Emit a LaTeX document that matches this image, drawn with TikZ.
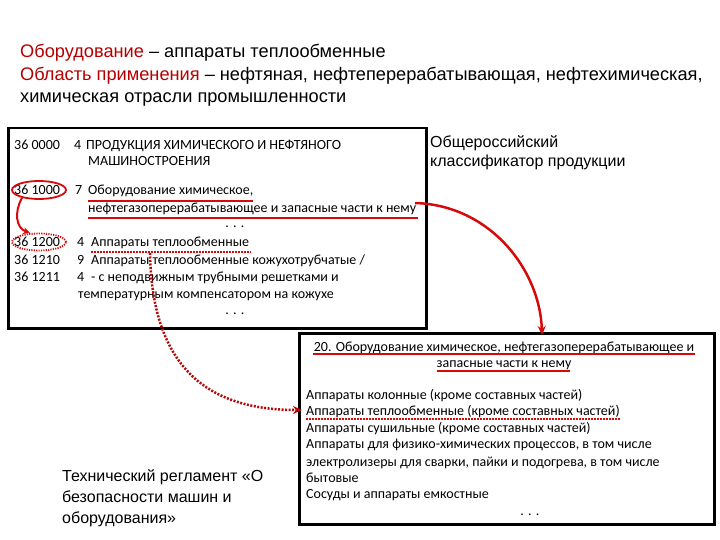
\documentclass[tikz,border=0pt]{standalone}
\usepackage{fontspec}
\setmainfont{Liberation Sans}
\newfontfamily\calfont{Carlito}
\usetikzlibrary{arrows.meta,shapes.geometric}
\definecolor{ttlred}{RGB}{180,0,0}
\definecolor{lnred}{RGB}{214,10,10}
\tikzset{
  ttl/.style={anchor=base west,inner sep=0pt,font=\fontsize{18.2}{20}\selectfont},
  lbl/.style={anchor=base west,inner sep=0pt,font=\fontsize{16}{18}\selectfont},
  bt/.style={anchor=base west,inner sep=0pt,font=\calfont\fontsize{14}{15}\selectfont},
  btc/.style={anchor=base,inner sep=0pt,font=\calfont\fontsize{14}{15}\selectfont},
  boxframe/.style={draw=black,line width=2.5pt},
  uline/.style={draw=lnred,line width=2pt},
  dline/.style={draw=lnred,line width=2pt,dash pattern=on 1.5pt off 1.5pt},
  redarrow/.style={draw=lnred,line width=2.5pt,-{Stealth[length=9pt,width=8pt]}},
  dotarrow/.style={draw=lnred!85!black,line width=2.5pt,dash pattern=on 2pt off 1.5pt,-{Stealth[length=9pt,width=8pt]}},
  ring/.style={draw=lnred,line width=1.8pt,ellipse,minimum width=54pt,minimum height=18pt,inner sep=0pt},
}
\begin{document}
\begin{tikzpicture}[x=1pt,y=-1pt]
\useasboundingbox (0,0) rectangle (720,540);
% titles
\node[ttl] (t1) at (20,58) {\textcolor{ttlred}{Оборудование} – аппараты теплообменные};
\node[ttl] (t2) at (20,81) {\textcolor{ttlred}{Область применения} – нефтяная, нефтеперерабатывающая, нефтехимическая,};
\node[ttl] (t3) at (20,103) {химическая отрасли промышленности};
% upper box
\node[boxframe,draw,minimum width=418pt,minimum height=200pt,anchor=north west,inner sep=0pt] (ubox) at (7,127) {};
\node[bt] (u1a) at (14,150) {36 0000};
\node[bt] (u1b) at (74,150) {4};
\node[bt] (u1c) at (86,150) {ПРОДУКЦИЯ ХИМИЧЕСКОГО И НЕФТЯНОГО};
\node[bt] (u1d) at (88,166) {МАШИНОСТРОЕНИЯ};
\node[bt] (u2a) at (14,195) {36 1000};
\node[bt] (u2b) at (75,195) {7};
\node[bt] (u2c) at (88,195) {Оборудование химическое,};
\node[bt] (u2d) at (88,212) {нефтегазоперерабатывающее и запасные части к нему};
\node[btc] (u2e) at (235,227) {. . .};
\node[bt] (u3a) at (14,247) {36 1200};
\node[bt] (u3b) at (77,247) {4};
\node[bt] (u3c) at (91,247) {Аппараты теплообменные};
\node[bt] (u4a) at (14,264) {36 1210};
\node[bt] (u4b) at (77,264) {9};
\node[bt] (u4c) at (91,264) {Аппараты теплообменные кожухотрубчатые /};
\node[bt] (u5a) at (14,281) {36 1211};
\node[bt] (u5b) at (77,281) {4};
\node[bt] (u5c) at (91,281) {- с неподвижным трубными решетками и};
\node[bt] (u5d) at (78,298) {температурным компенсатором на кожухе};
\node[btc] (u6) at (235,314) {. . .};
% underlines upper
\coordinate (ul1a) at (88,201); \coordinate (ul1b) at (253,201);
\coordinate (ul2a) at (88,218); \coordinate (ul2b) at (418,218);
\coordinate (ul3a) at (91,252); \coordinate (ul3b) at (251,252);
\draw[uline] (ul1a) -- (ul1b);
\draw[uline] (ul2a) -- (ul2b);
\draw[dline] (ul3a) -- (ul3b);
% rings
\node[ring] (r1) at (39,190) {};
\node[ring,dash pattern=on 1.2pt off 1.2pt,minimum height=17pt] (r2) at (39,242) {};
% label right
\node[lbl] (okp1) at (430,148) {Общероссийский};
\node[lbl] (okp2) at (430,167) {классификатор продукции};
% lower box
\node[boxframe,draw,minimum width=415pt,minimum height=191pt,anchor=north west,inner sep=0pt] (lbox) at (298,332) {};
\node[btc] (l0a) at (504,351) {20. Оборудование химическое, нефтегазоперерабатывающее и};
\node[btc] (l0b) at (504,367) {запасные части к нему};
\coordinate (ll1a) at (313,354); \coordinate (ll1b) at (695,354);
\coordinate (ll2a) at (437,371); \coordinate (ll2b) at (570,371);
\draw[uline] (ll1a) -- (ll1b);
\draw[uline] (ll2a) -- (ll2b);
\node[bt] (l1) at (306,399) {Аппараты колонные (кроме составных частей)};
\node[bt] (l2) at (306,415) {Аппараты теплообменные (кроме составных частей)};
\node[bt] (l3) at (306,432) {Аппараты сушильные (кроме составных частей)};
\node[bt] (l4) at (306,448) {Аппараты для физико-химических процессов, в том числе};
\node[bt] (l5) at (306,466) {электролизеры для сварки, пайки и подогрева, в том числе};
\node[bt] (l6) at (306,482) {бытовые};
\node[bt] (l7) at (306,498) {Сосуды и аппараты емкостные};
\node[btc] (l8) at (530,515) {. . .};
\coordinate (ll3a) at (306,419); \coordinate (ll3b) at (620,419);
\draw[dline] (ll3a) -- (ll3b);
% bottom-left label
\node[lbl] (tr1) at (62,481) {Технический регламент «О};
\node[lbl] (tr2) at (62,502) {безопасности машин и};
\node[lbl] (tr3) at (62,523) {оборудования»};
% arrows
\coordinate (a1s) at (415,203);
\coordinate (a1e) at (542,335);
\draw[redarrow] (a1s) .. controls (490,205) and (540,270) .. (a1e);
\coordinate (a2s) at (22,198);
\coordinate (a2e) at (30,233);
\draw[draw=lnred,line width=2pt,-{Stealth[length=7pt,width=7pt]}] (a2s) .. controls (14,212) and (16,228) .. (a2e);
\coordinate (a3s) at (150,253);
\coordinate (a3e) at (302,410);
\draw[dotarrow] (a3s) .. controls (152,370) and (210,410) .. (a3e);
\end{tikzpicture}
\end{document}
